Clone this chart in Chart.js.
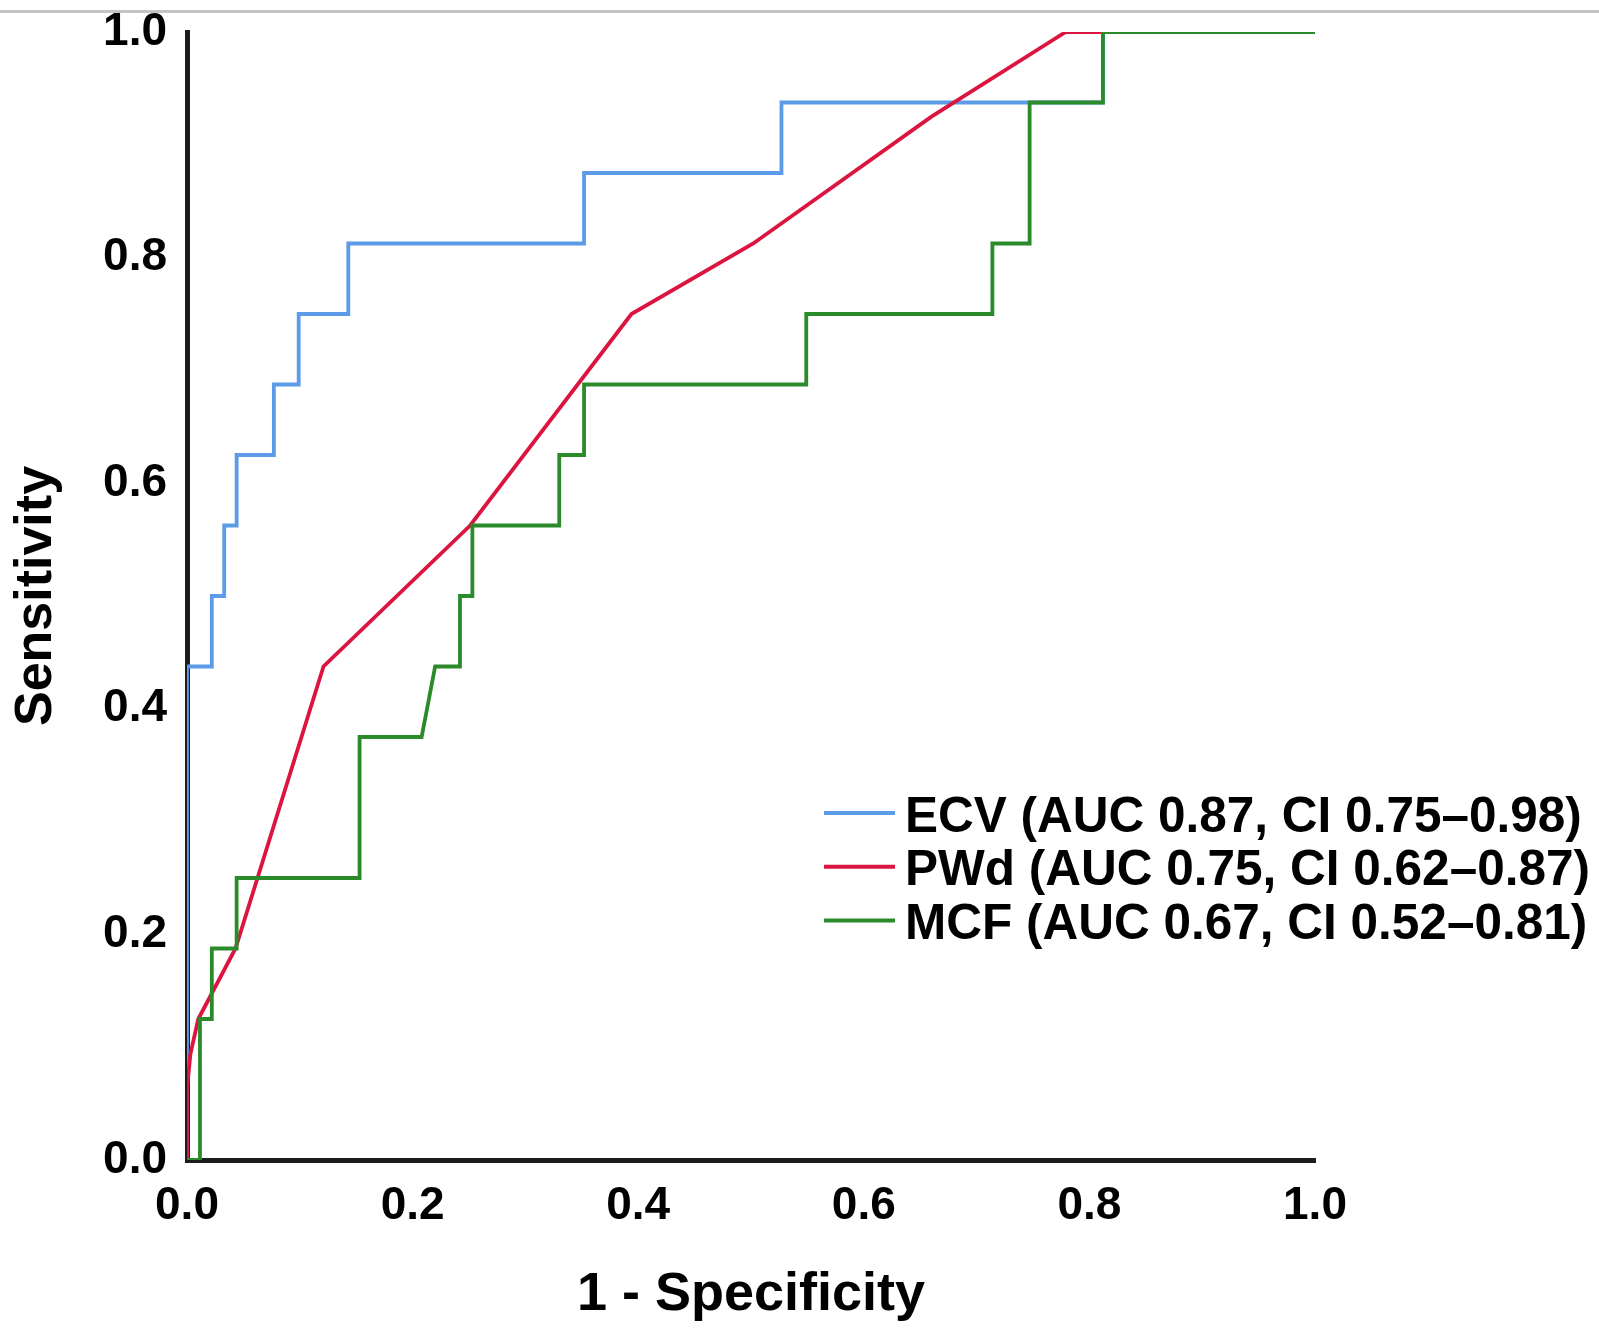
<!DOCTYPE html>
<html>
<head>
<meta charset="utf-8">
<script src="https://cdn.jsdelivr.net/npm/chart.js@4/dist/chart.umd.min.js"></script>
<style>
  html, body { margin: 0; padding: 0; background: #fff; width: 1599px; height: 1331px; overflow: hidden; }
  canvas { position: absolute; left: 0; top: 0; }
  #topline { position: absolute; left: 0; top: 10px; width: 1599px; height: 3px; background: #c4c4c4; }
</style>
</head>
<body>
<canvas id="c" width="1599" height="1331"></canvas>
<div id="topline"></div>
<script>
// ---- Data ----
const seriesLabels = [
  'ECV (AUC 0.87, CI 0.75\u20130.98)',
  'PWd (AUC 0.75, CI 0.62\u20130.87)',
  'MCF (AUC 0.67, CI 0.52\u20130.81)'
];

// ECV (1 - specificity, sensitivity)
const ecvFpr = [0, 0, 0.022, 0.022, 0.033, 0.033, 0.044, 0.044, 0.077, 0.077, 0.099, 0.099, 0.143, 0.143, 0.352, 0.352, 0.527, 0.527, 0.812, 0.812, 1];
const ecvTpr = [0, 0.4375, 0.4375, 0.5, 0.5, 0.5625, 0.5625, 0.625, 0.625, 0.6875, 0.6875, 0.75, 0.75, 0.8125, 0.8125, 0.875, 0.875, 0.9375, 0.9375, 1, 1];

// PWd
const pwdFpr = [0, 0, 0.003, 0.010, 0.043, 0.121, 0.251, 0.394, 0.502, 0.660, 0.779, 1];
const pwdTpr = [0, 0.0625, 0.094, 0.125, 0.1875, 0.4375, 0.5625, 0.75, 0.8125, 0.925, 1, 1];

// MCF
const mcfFpr = [0, 0.0115, 0.0115, 0.022, 0.022, 0.044, 0.044, 0.153, 0.153, 0.208, 0.220, 0.242, 0.242, 0.253, 0.253, 0.330, 0.330, 0.352, 0.352, 0.549, 0.549, 0.714, 0.714, 0.747, 0.747, 0.812, 0.812, 1];
const mcfTpr = [0, 0, 0.125, 0.125, 0.1875, 0.1875, 0.25, 0.25, 0.375, 0.375, 0.4375, 0.4375, 0.5, 0.5, 0.5625, 0.5625, 0.625, 0.625, 0.6875, 0.6875, 0.75, 0.75, 0.8125, 0.8125, 0.9375, 0.9375, 1, 1];

const xTickLabels = ['0.0', '0.2', '0.4', '0.6', '0.8', '1.0'];
const yTickLabels = ['0.0', '0.2', '0.4', '0.6', '0.8', '1.0'];
const xTitle = '1 - Specificity';
const yTitle = 'Sensitivity';

const colors = ['#5b9be8', '#dc1440', '#2b8b2b'];

// ---- Build Chart.js structures ----
function toPoints(xs, ys) { return xs.map((x, i) => ({ x: x, y: ys[i] })); }

const datasets = [
  { label: seriesLabels[0], data: toPoints(ecvFpr, ecvTpr), order: 3 },
  { label: seriesLabels[1], data: toPoints(pwdFpr, pwdTpr), order: 2 },
  { label: seriesLabels[2], data: toPoints(mcfFpr, mcfTpr), order: 1 }
].map((d, i) => Object.assign(d, {
  showLine: true,
  borderColor: colors[i],
  backgroundColor: colors[i],
  borderWidth: 3.8,
  pointRadius: 0,
  pointHoverRadius: 0,
  tension: 0,
  fill: false,
  borderJoinStyle: 'miter',
  borderCapStyle: 'butt'
}));

const legendPlugin = {
  id: 'rocLegend',
  afterDraw(chart) {
    const ctx = chart.ctx;
    ctx.save();
    ctx.font = 'bold 49.5px "Liberation Sans", Arial, sans-serif';
    ctx.textBaseline = 'middle';
    ctx.textAlign = 'left';
    chart.data.datasets.forEach((ds, i) => {
      const y = 813 + i * 53.7;
      ctx.strokeStyle = ds.borderColor;
      ctx.lineWidth = 4;
      ctx.lineCap = 'butt';
      ctx.beginPath();
      ctx.moveTo(824, y);
      ctx.lineTo(895, y);
      ctx.stroke();
      ctx.fillStyle = '#000';
      ctx.fillText(ds.label, 905, y + 5);
    });
    ctx.restore();
  }
};

const tickFont = { family: '"Liberation Sans", Arial, sans-serif', size: 46, weight: 'bold' };
const xTitleFont = { family: '"Liberation Sans", Arial, sans-serif', size: 54, weight: 'bold' };
const yTitleFont = { family: '"Liberation Sans", Arial, sans-serif', size: 52, weight: 'bold' };

new Chart(document.getElementById('c'), {
  type: 'scatter',
  data: { datasets: datasets },
  options: {
    responsive: false,
    devicePixelRatio: 1,
    animation: false,
    events: [],
    layout: { padding: { top: 32, left: 0, right: 284, bottom: 0 } },
    plugins: { legend: { display: false }, tooltip: { enabled: false } },
    scales: {
      x: {
        type: 'linear',
        min: 0, max: 1,
        grid: { display: false },
        border: { display: true, color: '#1c1c1c', width: 5 },
        ticks: {
          stepSize: 0.2,
          padding: 11,
          color: '#000',
          font: tickFont,
          maxRotation: 0,
          callback: (v, i) => xTickLabels[i]
        },
        title: { display: true, text: xTitle, color: '#000', font: xTitleFont, padding: { top: 0, bottom: 3 } },
        afterFit(scale) { scale.height = 171; scale.paddingLeft = 0; scale.paddingRight = 0; }
      },
      y: {
        type: 'linear',
        min: 0, max: 1,
        grid: { display: false },
        border: { display: true, color: '#1c1c1c', width: 5 },
        ticks: {
          stepSize: 0.2,
          padding: 12,
          color: '#000',
          font: tickFont,
          callback: (v, i) => yTickLabels[i]
        },
        title: { display: true, text: yTitle, color: '#000', font: yTitleFont, padding: { top: 5, bottom: 0 } },
        afterFit(scale) { scale.width = 187; scale.paddingTop = 0; scale.paddingBottom = 0; }
      }
    }
  },
  plugins: [legendPlugin]
});
</script>
</body>
</html>
